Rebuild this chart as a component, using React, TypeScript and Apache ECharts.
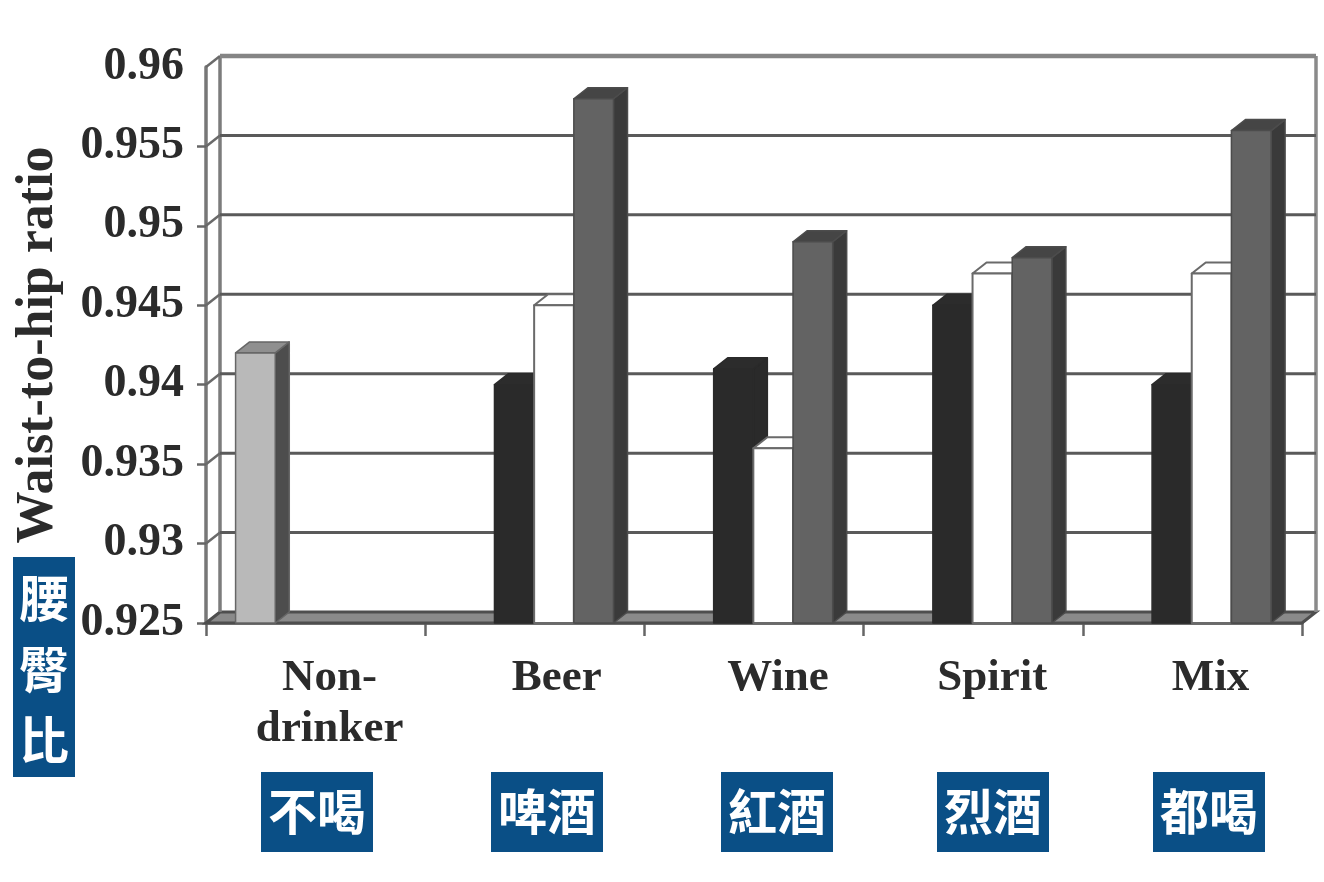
import React, { useEffect, useRef } from "react";
import * as echarts from "echarts";

const categories = ["Non-\ndrinker", "Beer", "Wine", "Spirit", "Mix"];
const labelShift = [28, 44, 48, 38, 36];
const yMin = 0.925;
const yMax = 0.96;
const yStep = 0.005;
const yTicks = [0.925, 0.93, 0.935, 0.94, 0.945, 0.95, 0.955, 0.96];
const nonDrinkerValues = [0.942, null, null, null, null];
const blackValues = [null, 0.94, 0.941, 0.945, 0.94];
const whiteValues = [null, 0.945, 0.936, 0.947, 0.947];
const greyValues = [null, 0.958, 0.949, 0.948, 0.956];
const zhCategories = ["不喝", "啤酒", "紅酒", "烈酒", "都喝"];
const zhCategoryX = [261, 491, 721, 937, 1153];
const zhAxis = ["腰", "臀", "比"];
const zhAxisY = [595, 666, 737];

const DX = 14;
const DY = -11;
const SERIF = '"Liberation Serif", serif';
const CJK = '"Noto Sans CJK TC", sans-serif';
const BLUE = "#0a4f86";
const INK = "#2b2b2b";

const barStyles = [
  { front: "#b9b9b9", side: "#4d4d4d", top: "#8f8f8f", stroke: "#666666" },
  { front: "#2a2a2a", side: "#2a2a2a", top: "#2c2c2c", stroke: "#2a2a2a" },
  { front: "#ffffff", side: "#ffffff", top: "#ffffff", stroke: "#6a6a6a" },
  { front: "#636363", side: "#3a3a3a", top: "#454545", stroke: "#4c4c4c" },
];

const barSeries = (values: (number | null)[], s: number) => ({
  type: "custom",
  z: 5 + s,
  silent: true,
  data: values.map((v, i) => [i, v]),
  encode: { x: 0, y: 1 },
  renderItem: (_p: any, api: any) => {
    const idx = api.value(0);
    const val = api.value(1);
    if (val == null || Number.isNaN(val)) return null;
    const band = api.size([1, 0])[0];
    const base = api.coord([idx, yMin]);
    const top = api.coord([idx, val]);
    const w = band * 0.181;
    const x0 = base[0] - band / 2 + band * 0.135 + s * w;
    const x1 = x0 + w;
    const yb = base[1];
    const yt = top[1];
    const st = barStyles[s];
    const mk = (pts: number[][], fill: string) => ({
      type: "polygon",
      shape: { points: pts },
      style: { fill, stroke: st.stroke, lineWidth: s === 2 ? 2 : 1.5, lineJoin: "round" },
    });
    return {
      type: "group",
      children: [
        mk([[x1, yb], [x1 + DX, yb + DY], [x1 + DX, yt + DY], [x1, yt]], st.side),
        mk([[x0, yt], [x0 + DX, yt + DY], [x1 + DX, yt + DY], [x1, yt]], st.top),
        mk([[x0, yb], [x0, yt], [x1, yt], [x1, yb]], st.front),
      ],
    };
  },
});

const wallSeries = {
  type: "custom",
  z: 1,
  silent: true,
  data: yTicks.map((v) => [0, v]),
  encode: { x: 0, y: 1 },
  renderItem: (p: any, api: any) => {
    const v = api.value(1);
    const cs = p.coordSys;
    const y = api.coord([0, v])[1];
    const x0 = cs.x;
    const x1 = cs.x + cs.width;
    const isTop = v === yMax;
    const isBase = v === yMin;
    const children: any[] = [];
    if (isBase) {
      const yTop = cs.y;
      children.push({
        type: "polygon",
        shape: { points: [[x0, y], [x0 + DX, y + DY], [x1 + DX, y + DY], [x1, y]] },
        style: { fill: "#8a8a8a", stroke: "#4e4e4e", lineWidth: 3 },
      });
      children.push({
        type: "line",
        shape: { x1: x0 + DX, y1: yTop + DY, x2: x0 + DX, y2: y + DY },
        style: { stroke: "#7c7c7c", lineWidth: 3.5 },
      });
      children.push({
        type: "line",
        shape: { x1: x1 + DX, y1: yTop + DY, x2: x1 + DX, y2: y + DY },
        style: { stroke: "#8a8a8a", lineWidth: 3.5 },
      });
    } else {
      children.push({
        type: "line",
        shape: { x1: x0, y1: y, x2: x0 + DX, y2: y + DY },
        style: { stroke: "#6a6a6a", lineWidth: 2.5 },
      });
      children.push({
        type: "line",
        shape: { x1: x0 + DX, y1: y + DY, x2: x1 + DX, y2: y + DY },
        style: { stroke: isTop ? "#858585" : "#5a5a5a", lineWidth: isTop ? 4.5 : 3 },
      });
    }
    return { type: "group", children };
  },
};

export default function App() {
  const ref = useRef<HTMLDivElement>(null);
  useEffect(() => {
    document.body.style.margin = "0";
    document.body.style.background = "#ffffff";
    const chart = echarts.init(ref.current!, undefined, { renderer: "svg" });
    const graphic: any[] = [];
    zhCategories.forEach((t, i) => {
      graphic.push({
        type: "rect",
        z: 20,
        shape: { x: zhCategoryX[i], y: 772, width: 112, height: 80 },
        style: { fill: BLUE },
      });
      graphic.push({
        type: "text",
        z: 21,
        x: zhCategoryX[i] + 56,
        y: 808,
        style: { text: t, fill: "#ffffff", font: `700 49px ${CJK}`, align: "center", verticalAlign: "middle" },
      });
    });
    graphic.push({
      type: "rect",
      z: 20,
      shape: { x: 13, y: 557, width: 62, height: 220 },
      style: { fill: BLUE },
    });
    zhAxis.forEach((t, i) => {
      graphic.push({
        type: "text",
        z: 21,
        x: 44,
        y: zhAxisY[i],
        style: { text: t, fill: "#ffffff", font: `700 50px ${CJK}`, align: "center", verticalAlign: "middle" },
      });
    });
    chart.setOption({
      animation: false,
      backgroundColor: "#ffffff",
      grid: { left: 206, top: 67, width: 1096, height: 556, containLabel: false, outerBoundsMode: "none" },
      xAxis: {
        type: "category",
        data: categories.map((c, i) => ({
          value: c,
          textStyle: { padding: [0, 0, 0, labelShift[i]] },
        })),
        boundaryGap: true,
        axisLine: { lineStyle: { color: "#666666", width: 2.5 } },
        axisTick: { show: true, alignWithLabel: false, length: 13, lineStyle: { color: "#666666", width: 2.5 } },
        axisLabel: {
          interval: 0,
          margin: 26,
          color: INK,
          fontFamily: SERIF,
          fontWeight: 700,
          fontSize: 45,
          lineHeight: 51,
        },
      },
      yAxis: {
        type: "value",
        min: yMin,
        max: yMax,
        interval: yStep,
        name: "Waist-to-hip ratio",
        nameLocation: "middle",
        nameRotate: 90,
        nameGap: 146,
        nameTextStyle: { color: INK, fontFamily: SERIF, fontWeight: 700, fontSize: 52 },
        splitLine: { show: false },
        axisLine: { show: true, lineStyle: { color: "#777777", width: 3.5 } },
        axisTick: {
          show: true,
          length: 9,
          customValues: yTicks.slice(0, -1),
          lineStyle: { color: "#666666", width: 2.5 },
        },
        axisLabel: {
          margin: 22,
          color: INK,
          fontFamily: SERIF,
          fontWeight: 700,
          fontSize: 46,
          verticalAlign: "bottom",
          lineHeight: 8,
        },
      },
      series: [
        wallSeries,
        barSeries(nonDrinkerValues, 0),
        barSeries(blackValues, 1),
        barSeries(whiteValues, 2),
        barSeries(greyValues, 3),
      ],
      graphic,
    });
    return () => chart.dispose();
  }, []);
  return <div ref={ref} style={{ width: 1324, height: 882, overflow: "hidden", filter: "blur(0.7px)" }} />;
}
